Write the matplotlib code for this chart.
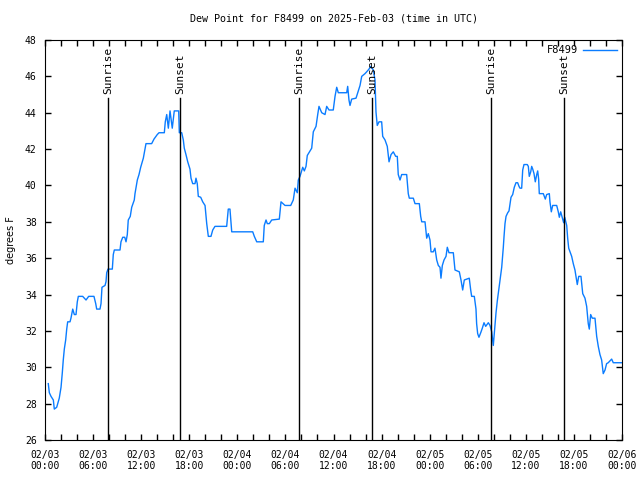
import numpy as np
import pandas as pd
import matplotlib
matplotlib.use("Agg")
import matplotlib.pyplot as plt
import matplotlib.dates as mdates

plt.rcParams["font.family"] = "DejaVu Sans Mono"
plt.rcParams["font.size"] = 7

START = pd.Timestamp("2025-02-03 00:00")

# hours since 2025-02-03 00:00 UTC
hours = [
    0.41, 0.54, 0.75, 1.04, 1.16, 1.46, 1.78, 2.0, 2.16, 2.28, 2.41, 2.58, 2.71,
    2.83, 3.12, 3.24, 3.37, 3.46, 3.66, 3.87, 4.03, 4.16, 4.70, 5.12, 5.45, 6.11, 6.33,
    6.45, 6.86, 6.99, 7.11, 7.49, 7.61, 7.70, 7.86, 8.40, 8.52, 8.65, 9.36, 9.48, 9.70,
    9.95, 10.11, 10.27, 10.39, 10.64, 10.82, 11.14, 11.23, 11.52, 11.73, 11.94, 12.27,
    12.60, 13.31, 13.60, 14.01, 14.23, 14.89, 15.01, 15.19, 15.39, 15.60, 15.88, 16.13,
    16.68, 16.76, 17.06, 17.26, 17.38, 17.59, 17.81, 18.09, 18.22, 18.43, 18.72, 18.84,
    19.00, 19.13, 19.43, 19.68, 19.97, 20.18, 20.38, 20.71, 20.93, 21.21, 22.67, 22.87,
    23.08, 23.30, 25.92, 26.12, 26.42, 27.24, 27.36, 27.58, 27.74, 27.99, 28.29, 29.24,
    29.45, 29.95, 30.66, 30.98, 31.20, 31.48, 31.61, 31.82, 32.16, 32.36, 32.57, 32.73,
    33.28, 33.48, 33.82, 34.03, 34.19, 34.53, 34.94, 35.15, 35.44, 35.97, 36.19, 36.40,
    36.60, 37.65, 37.77, 37.93, 38.06, 38.27, 38.81, 39.09, 39.31, 39.52, 39.93, 40.14,
    40.43, 40.64, 40.97, 41.18, 41.30, 41.46, 41.68, 42.01, 42.14, 42.43, 42.71, 42.93,
    43.18, 43.46, 43.76, 43.96, 44.08, 44.30, 44.51, 45.13, 45.33, 45.46, 45.96, 46.17,
    46.71, 46.88, 47.01, 47.42, 47.63, 47.83, 48.04, 48.17, 48.45, 48.66, 48.88, 49.08,
    49.29, 49.41, 49.58, 49.79, 50.04, 50.20, 50.41, 50.95, 51.16, 51.70, 51.91, 52.12,
    52.32, 52.94, 53.12, 53.24, 53.57, 53.78, 53.86, 53.99, 54.15, 54.37, 54.57, 54.78,
    54.99, 55.32, 55.53, 55.74, 55.94, 56.15, 56.28, 56.44, 56.69, 56.99, 57.19, 57.28,
    57.40, 57.53, 57.74, 57.90, 58.03, 58.15, 58.36, 58.56, 58.77, 58.98, 59.15, 59.27,
    59.48, 59.61, 59.77, 60.18, 60.31, 60.43, 60.61, 60.73, 60.86, 61.02, 61.18, 61.36,
    61.48, 61.60, 61.68, 62.18, 62.43, 62.60, 62.93, 63.01, 63.18, 63.35, 63.85, 64.05,
    64.18, 64.35, 64.51, 64.72, 64.85, 65.10, 65.22, 65.35, 65.51, 65.72, 65.92, 66.13,
    66.26, 66.42, 66.60, 66.88, 67.10, 67.38, 67.59, 67.79, 67.92, 68.09, 68.29, 68.63,
    68.84, 69.04, 69.25, 69.46, 69.66, 69.88, 70.08, 70.28, 70.49, 70.71, 70.91, 71.96,
]

dew_point = [
    29.1, 28.6, 28.4, 28.2, 27.7, 27.8, 28.3, 28.9, 29.7, 30.4, 31.0, 31.5, 32.1,
    32.5, 32.5, 32.7, 33.0, 33.2, 32.9, 32.9, 33.6, 33.9, 33.9, 33.7, 33.9, 33.9, 33.5,
    33.2, 33.2, 33.5, 34.4, 34.5, 34.7, 35.2, 35.4, 35.4, 36.2, 36.45, 36.45, 36.9, 37.15,
    37.15, 36.9, 37.3, 38.1, 38.3, 38.8, 39.2, 39.55, 40.3, 40.6, 41.0, 41.5,
    42.3, 42.3, 42.55, 42.8, 42.9, 42.9, 43.5, 43.9, 43.15, 44.1, 43.15, 44.1,
    44.1, 42.9, 42.9, 42.5, 42.05, 41.7, 41.3, 40.9, 40.4, 40.1, 40.1, 40.4,
    40.1, 39.4, 39.35, 39.1, 38.9, 37.9, 37.2, 37.2, 37.55, 37.75, 37.75, 38.7,
    38.7, 37.45, 37.45, 37.2, 36.9, 36.9, 37.8, 38.1, 37.9, 37.9, 38.1, 38.15,
    39.1, 38.9, 38.9, 39.2, 39.85, 39.6, 40.3, 40.5, 41.0, 40.8, 41.05, 41.65,
    42.05, 42.95, 43.25, 43.9, 44.35, 44.0, 43.9, 44.35, 44.15, 44.15, 44.9, 45.4,
    45.1, 45.1, 45.45, 44.7, 44.4, 44.75, 44.8, 45.2, 45.5, 46.0, 46.15, 46.25,
    46.4, 46.55, 46.35, 45.8, 44.05, 43.3, 43.5, 43.5, 42.7, 42.5, 42.15, 41.3,
    41.7, 41.85, 41.6, 41.6, 40.6, 40.3, 40.6, 40.6, 39.55, 39.3, 39.3, 39.0,
    39.0, 38.3, 38.0, 38.0, 37.1, 37.35, 37.0, 36.35, 36.35, 36.55, 35.9, 35.6,
    35.5, 34.9, 35.6, 35.9, 36.1, 36.6, 36.3, 36.3, 35.35, 35.25, 34.8, 34.25,
    34.8, 34.9, 34.25, 33.9, 33.9, 33.2, 32.4, 31.85, 31.65, 31.9, 32.15, 32.45,
    32.25, 32.45, 32.3, 31.95, 31.2, 32.3, 33.0, 33.65, 34.5, 35.5, 36.6, 37.2,
    37.9, 38.3, 38.5, 38.6, 39.0, 39.35, 39.5, 39.9, 40.15, 40.15, 39.95, 39.85,
    39.85, 40.85, 41.15, 41.15, 41.05, 40.5, 40.75, 41.05, 40.9, 40.65, 40.2, 40.6,
    40.8, 40.35, 39.55, 39.55, 39.25, 39.5, 39.55, 39.1, 38.55, 38.9, 38.9, 38.55,
    38.25, 38.55, 38.3, 37.95, 38.25, 37.8, 37.1, 36.55, 36.35, 36.1, 35.7, 35.35,
    35.0, 34.55, 35.0, 35.0, 34.05, 33.8, 33.35, 32.4, 32.1, 32.9, 32.7, 32.7,
    31.7, 31.15, 30.7, 30.4, 29.65, 29.85, 30.2, 30.25, 30.35, 30.45, 30.25, 30.25,
]

sunrise = ["2025-02-03 07:54", "2025-02-04 07:44", "2025-02-05 07:41"]
sunset = ["2025-02-03 16:51", "2025-02-04 16:50", "2025-02-05 16:48"]

times = START + pd.to_timedelta(hours, unit="h")

fig = plt.figure(figsize=(6.4, 4.8), dpi=100)
ax = fig.add_axes([45 / 640, 40 / 480, 577 / 640, 400 / 480])

ax.plot(times, dew_point, color="#0a7cff", lw=1, label="F8499")

for t, name in [(s, "Sunrise") for s in sunrise] + [(s, "Sunset") for s in sunset]:
    ts = pd.Timestamp(t)
    ax.axvline(ts, ymin=0, ymax=0.855, color="black", lw=1)
    ax.text(ts, 0.865, name, transform=ax.get_xaxis_transform(), rotation=90,
            ha="center", va="bottom", fontsize=8)

ax.set_xlim(START, START + pd.Timedelta(hours=72))
ax.set_ylim(26, 48)
ax.set_yticks(np.arange(26, 49, 2))
ax.xaxis.set_major_locator(mdates.HourLocator(byhour=[0, 6, 12, 18]))
ax.xaxis.set_minor_locator(mdates.HourLocator(byhour=range(0, 24, 2)))
ax.xaxis.set_major_formatter(mdates.DateFormatter("%m/%d\n%H:%M"))
ax.tick_params(which="both", direction="in", top=True, right=True, length=4, width=1)
ax.tick_params(axis="x", pad=7)
ax.tick_params(axis="y", pad=6)

ax.set_ylabel("degrees F", family="DejaVu Sans", fontsize=7)
ax.yaxis.set_label_coords(-0.051, 0.5)
ax.set_title("Dew Point for F8499 on 2025-Feb-03 (time in UTC)", pad=13, fontsize=7.2)

ax.legend(loc="upper right", frameon=False, markerfirst=False, handlelength=3.2,
          borderaxespad=0.1, handletextpad=0.5, fontsize=7.5)

fig.savefig("out.png", dpi=100)
